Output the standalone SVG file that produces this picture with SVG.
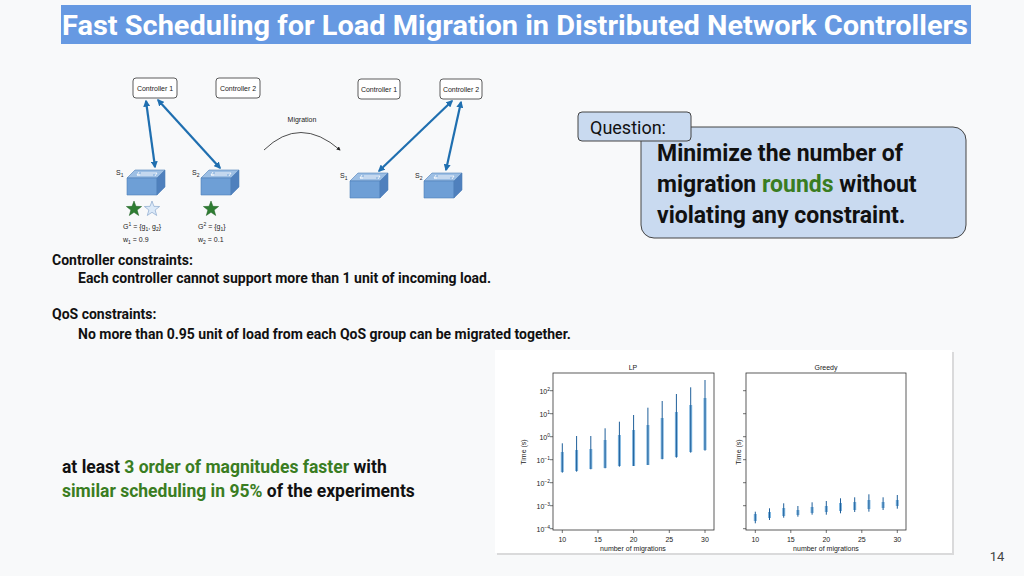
<svg xmlns="http://www.w3.org/2000/svg" width="1024" height="576" viewBox="0 0 1024 576">
<defs>
<style>
.t{font-family:Roboto,"Liberation Sans",sans-serif}
.b{font-weight:bold}
.sm{font-family:"Liberation Sans",Arial,sans-serif;font-size:7px;fill:#222}
.ctl{fill:#fff;stroke:#333;stroke-width:0.8}
.lk{stroke:#1f6fb0;stroke-width:2.2;fill:none;marker-start:url(#ah);marker-end:url(#ah)}
.ax{fill:none;stroke:#333;stroke-width:0.8}
.eb{stroke:#1f5f9a;stroke-width:1}
.ebw{stroke:#5fa3d8;stroke-width:3;opacity:0.8}
.g{fill:#3a7d22}
</style>
<marker id="ah" viewBox="0 0 10 10" refX="8" refY="5" markerWidth="3.2" markerHeight="3.2" orient="auto-start-reverse"><path d="M0,0L10,5L0,10z" fill="#1f6fb0"/></marker>
<marker id="ah2" viewBox="0 0 10 10" refX="8" refY="5" markerWidth="5" markerHeight="5" orient="auto"><path d="M0,0L10,5L0,10z" fill="#222"/></marker>
<path id="star" d="M0,-8L1.94,-2.67L7.61,-2.47L3.14,1.02L4.7,6.47L0,3.3L-4.7,6.47L-3.14,1.02L-7.61,-2.47L-1.94,-2.67Z"/>
<g id="sw">
<path d="M0,8L8,0L38,0L30,8Z" fill="#9dbfe4" stroke="#4f7fb8" stroke-width="0.6"/>
<path d="M0,8H30V25H0Z" fill="#6e9fd6" stroke="#4f7fb8" stroke-width="0.6"/>
<path d="M30,8L38,0V17L30,25Z" fill="#4f80bd" stroke="#4f7fb8" stroke-width="0.6"/>
<path d="M10,5H26M14,3H30M12,2l-2,3l3,0M28,6l2,-3" stroke="#fff" stroke-width="0.8" fill="none"/>
</g>
</defs>
<rect width="1024" height="576" fill="#f8f9fa"/>
<rect x="61" y="5" width="910" height="39" fill="#6699e2"/>
<text x="62" y="35" class="t b" font-size="27" fill="#fff" textLength="906" lengthAdjust="spacingAndGlyphs">Fast Scheduling for Load Migration in Distributed Network Controllers</text>

<g id="left-diagram">
<g id="ctrl1-a"><rect x="133" y="78" width="44" height="20" rx="3" class="ctl"/><text x="155" y="91" class="sm" text-anchor="middle">Controller 1</text></g>
<g id="ctrl2-a"><rect x="216" y="78" width="44" height="20" rx="3" class="ctl"/><text x="238" y="91" class="sm" text-anchor="middle">Controller 2</text></g>
<g id="ctrl1-b"><rect x="358" y="79" width="42" height="20" rx="3" class="ctl"/><text x="379" y="92" class="sm" text-anchor="middle">Controller 1</text></g>
<g id="ctrl2-b"><rect x="440" y="79" width="42" height="20" rx="3" class="ctl"/><text x="461" y="92" class="sm" text-anchor="middle">Controller 2</text></g>
<g id="s1-a"><use href="#sw" x="127" y="170"/><text x="116" y="175" class="sm">S<tspan font-size="5" dy="2">1</tspan></text></g>
<g id="s2-a"><use href="#sw" x="201" y="170"/><text x="192" y="175" class="sm">S<tspan font-size="5" dy="2">2</tspan></text></g>
<g id="s1-b"><use href="#sw" x="350" y="173"/><text x="340" y="178" class="sm">S<tspan font-size="5" dy="2">1</tspan></text></g>
<g id="s2-b"><use href="#sw" x="424" y="173"/><text x="415" y="178" class="sm">S<tspan font-size="5" dy="2">2</tspan></text></g>
<g id="connectors">
<line x1="146" y1="101" x2="155" y2="167" class="lk"/>
<line x1="158" y1="100" x2="220" y2="168" class="lk"/>
<line x1="452" y1="101" x2="379" y2="171" class="lk"/>
<line x1="461" y1="102" x2="446" y2="170" class="lk"/>
<path d="M264,150Q300,115 340,150" fill="none" stroke="#222" stroke-width="0.8" marker-end="url(#ah2)"/>
</g>
<text x="302" y="122" class="sm" text-anchor="middle">Migration</text>
<use href="#star" x="134" y="209" fill="#2e7d32" stroke="#1b5e20" stroke-width="0.5"/>
<use href="#star" x="152" y="209" fill="#dbe9f8" stroke="#7a9cc6" stroke-width="0.6"/>
<use href="#star" x="211" y="209" fill="#2e7d32" stroke="#1b5e20" stroke-width="0.5"/>
<text x="123" y="229" class="sm">G<tspan font-size="5" dy="-3">1</tspan><tspan dy="3"> = {g</tspan><tspan font-size="5" dy="2">1</tspan><tspan dy="-2">, g</tspan><tspan font-size="5" dy="2">2</tspan><tspan dy="-2">}</tspan></text>
<text x="123" y="242" class="sm">w<tspan font-size="5" dy="2">1</tspan><tspan dy="-2"> = 0.9</tspan></text>
<text x="198" y="229" class="sm">G<tspan font-size="5" dy="-3">2</tspan><tspan dy="3"> = {g</tspan><tspan font-size="5" dy="2">1</tspan><tspan dy="-2">}</tspan></text>
<text x="198" y="242" class="sm">w<tspan font-size="5" dy="2">2</tspan><tspan dy="-2"> = 0.1</tspan></text>
</g>

<g id="question">
<rect x="641" y="127" width="325" height="111" rx="13" fill="#c9daf0" stroke="#444" stroke-width="1"/>
<rect x="578" y="112" width="113" height="29" rx="4" fill="#c9daf0" stroke="#444" stroke-width="1"/>
<text x="590" y="134" class="t" font-size="18" fill="#111">Question:</text>
<text class="t b" font-size="23" fill="#111"><tspan x="657" y="161">Minimize the number of</tspan><tspan x="657" y="192">migration <tspan class="g">rounds</tspan> without</tspan><tspan x="657" y="223">violating any constraint.</tspan></text>
</g>

<g id="constraints" class="t b" font-size="14" fill="#111">
<text x="52" y="265">Controller constraints:</text>
<text x="78" y="283">Each controller cannot support more than 1 unit of incoming load.</text>
<text x="52" y="319">QoS constraints:</text>
<text x="78" y="339">No more than 0.95 unit of load from each QoS group can be migrated together.</text>
</g>

<g id="conclusion" class="t b" font-size="17.5" fill="#111">
<text x="62" y="473">at least <tspan class="g">3 order of magnitudes faster</tspan> with</text>
<text x="62" y="497"><tspan class="g">similar scheduling in 95%</tspan> of the experiments</text>
</g>

<g id="plots">
<rect x="497" y="352" width="457" height="203" fill="#bbb" opacity="0.5"/>
<rect x="495" y="350" width="457" height="203" fill="#fff"/>
<rect x="553" y="373" width="161" height="157" class="ax"/>
<rect x="746" y="373" width="160" height="157" class="ax"/>
<text x="633" y="370" class="sm" font-size="8" text-anchor="middle">LP</text>
<text x="826" y="370" class="sm" font-size="8" text-anchor="middle">Greedy</text>
<g class="sm" text-anchor="end">
<text x="550" y="394">10<tspan font-size="5" dy="-3">2</tspan></text>
<text x="550" y="417">10<tspan font-size="5" dy="-3">1</tspan></text>
<text x="550" y="440">10<tspan font-size="5" dy="-3">0</tspan></text>
<text x="550" y="463">10<tspan font-size="5" dy="-3">−1</tspan></text>
<text x="550" y="486">10<tspan font-size="5" dy="-3">−2</tspan></text>
<text x="550" y="509">10<tspan font-size="5" dy="-3">−3</tspan></text>
<text x="550" y="532">10<tspan font-size="5" dy="-3">−4</tspan></text>
</g>
<path d="M553,390.7h-3M553,413.7h-3M553,436.7h-3M553,459.7h-3M553,482.7h-3M553,505.7h-3M553,528.7h-3M746,390.7h-3M746,413.7h-3M746,436.7h-3M746,459.7h-3M746,482.7h-3M746,505.7h-3M746,528.7h-3M562.3,530v3M598,530v3M633.6,530v3M669.3,530v3M705,530v3M755.3,530v3M790.8,530v3M826.3,530v3M861.8,530v3M897.3,530v3" stroke="#333" stroke-width="0.7"/>
<g class="sm" text-anchor="middle">
<text x="562.3" y="542">10</text><text x="598" y="542">15</text><text x="633.6" y="542">20</text><text x="669.3" y="542">25</text><text x="705" y="542">30</text>
<text x="755.3" y="542">10</text><text x="790.8" y="542">15</text><text x="826.3" y="542">20</text><text x="861.8" y="542">25</text><text x="897.3" y="542">30</text>
<text x="633" y="551">number of migrations</text><text x="826" y="551">number of migrations</text>
</g>
<text class="sm" transform="translate(526,452) rotate(-90)" text-anchor="middle">Time (s)</text>
<text class="sm" transform="translate(741,452) rotate(-90)" text-anchor="middle">Time (s)</text>
<g id="lp-bars">
<path class="ebw" d="M562.3,452V472M576.6,450V471M590.8,449V469M605.1,440V468M619.4,435V466M633.6,430V466M647.9,425V465M662.2,418V459M676.4,412V457M690.7,405V452M705,398V450"/>
<path class="eb" d="M562.3,443.3V472.7M576.6,436V471.7M590.8,436V469.3M605.1,428.3V468.3M619.4,421.7V466.7M633.6,415V466M647.9,407.7V465M662.2,401V459.3M676.4,394V457.7M690.7,387.3V452.7M705,380V450.7"/>
</g>
<g id="greedy-bars">
<path class="ebw" d="M755.3,514V521M769.5,512V518M783.7,508V516M797.9,510V515M812.1,507V513M826.3,506V512M840.5,503V511M854.7,502V510M868.9,500V509M883.1,502V508M897.3,500V506"/>
<path class="eb" d="M755.3,511.7V523.3M769.5,508.3V520M783.7,503.3V517.7M797.9,506V516.7M812.1,502.3V514.7M826.3,501V514.7M840.5,498.3V513.3M854.7,497.3V512M868.9,494.3V511.7M883.1,497.3V510M897.3,495V508.7"/>
</g>
</g>
<text x="997" y="561" class="t" font-size="13" fill="#444" text-anchor="middle">14</text>
</svg>
